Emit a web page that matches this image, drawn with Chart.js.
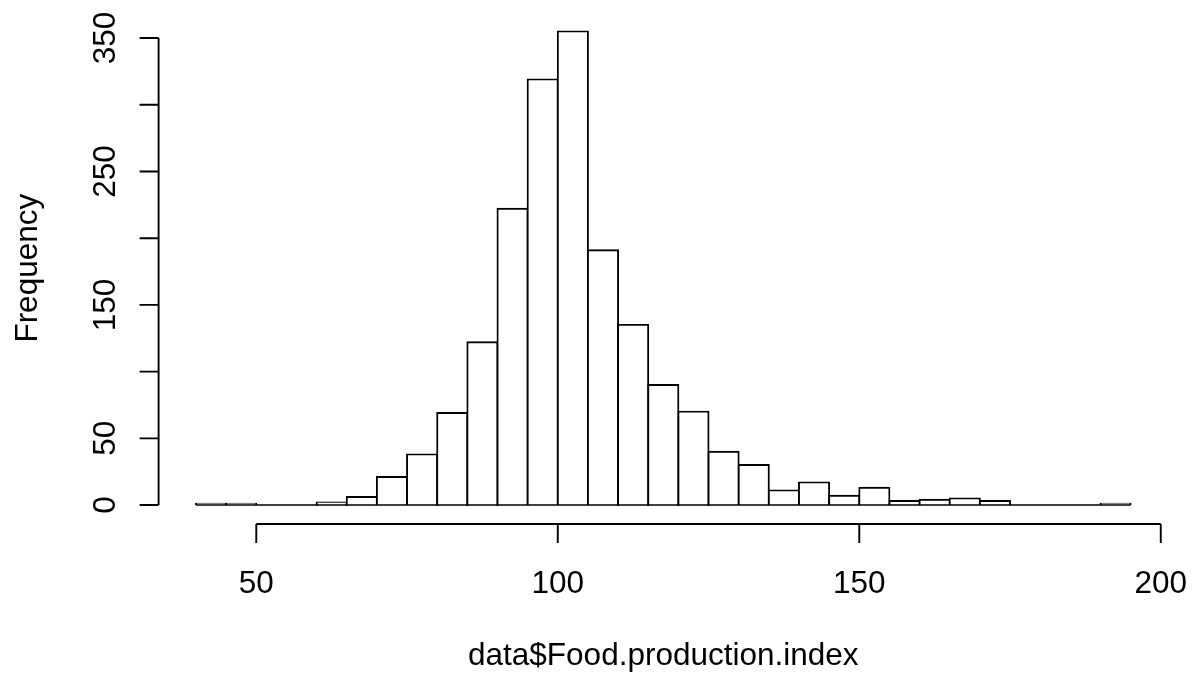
<!DOCTYPE html>
<html>
<head>
<meta charset="utf-8">
<script src="https://cdn.jsdelivr.net/npm/chart.js@4/dist/chart.umd.min.js"></script>
<style>
  html, body { margin: 0; padding: 0; background: #fff; }
  canvas { display: block; }
</style>
</head>
<body>
<canvas id="histChart" width="1196" height="677"></canvas>
<script>
/* ─── Data ─── */
const breaks = [40, 45, 50, 55, 60, 65, 70, 75, 80, 85, 90, 95, 100, 105, 110, 115,
  120, 125, 130, 135, 140, 145, 150, 155, 160, 165, 170, 175, 180, 185, 190, 195];
const counts = [1, 1, 0, 0, 2, 6, 21, 38, 69, 122, 222, 319, 355, 191, 135, 90,
  70, 40, 30, 11, 17, 7, 13, 3, 4, 5, 3, 0, 0, 0, 1];
const xTicks = [50, 100, 150, 200];
const yTicks = [0, 50, 100, 150, 200, 250, 300, 350];
const yTickLabels = ["0", "50", "", "150", "", "250", "", "350"];
const xTitle = "data$Food.production.index";
const yTitle = "Frequency";

const FONT = "31.5px 'Liberation Sans', Arial, sans-serif";

/* ─── R-style axes drawn from the scales ─── */
const rAxes = {
  id: "rAxes",
  afterDraw(chart) {
    const { ctx, chartArea: area, scales: { x, y } } = chart;
    ctx.save();
    ctx.strokeStyle = "#000";
    ctx.fillStyle = "#000";

    // baseline under the bins
    ctx.beginPath();
    ctx.lineWidth = 1.4;
    ctx.moveTo(x.getPixelForValue(breaks[0]), y.getPixelForValue(0));
    ctx.lineTo(x.getPixelForValue(breaks[breaks.length - 1]), y.getPixelForValue(0));
    ctx.stroke();
    ctx.lineWidth = 1.9;

    // x axis
    const xb = area.bottom;
    ctx.beginPath();
    ctx.moveTo(x.getPixelForValue(xTicks[0]), xb);
    ctx.lineTo(x.getPixelForValue(xTicks[xTicks.length - 1]), xb);
    xTicks.forEach((t) => {
      const px = x.getPixelForValue(t);
      ctx.moveTo(px, xb);
      ctx.lineTo(px, xb + 19);
    });
    ctx.stroke();
    ctx.font = FONT;
    ctx.textAlign = "center";
    ctx.textBaseline = "alphabetic";
    xTicks.forEach((t) => {
      ctx.fillText(String(t), x.getPixelForValue(t), 593);
    });
    ctx.fillText(xTitle, (area.left + area.right) / 2, 665);

    // y axis
    const yl = area.left;
    ctx.beginPath();
    ctx.moveTo(yl, y.getPixelForValue(yTicks[0]));
    ctx.lineTo(yl, y.getPixelForValue(yTicks[yTicks.length - 1]));
    yTicks.forEach((t) => {
      const py = y.getPixelForValue(t);
      ctx.moveTo(yl, py);
      ctx.lineTo(yl - 19, py);
    });
    ctx.stroke();
    yTicks.forEach((t, i) => {
      if (!yTickLabels[i]) return;
      ctx.save();
      ctx.translate(115, y.getPixelForValue(t));
      ctx.rotate(-Math.PI / 2);
      ctx.fillText(yTickLabels[i], 0, 0);
      ctx.restore();
    });
    ctx.save();
    ctx.translate(37, (area.top + area.bottom) / 2);
    ctx.rotate(-Math.PI / 2);
    ctx.fillText(yTitle, 0, 0);
    ctx.restore();

    ctx.restore();
  },
};

/* ─── Histogram ─── */
const xMin = breaks[0] - 0.04 * (breaks[breaks.length - 1] - breaks[0]);
const xMax = breaks[breaks.length - 1] + 0.04 * (breaks[breaks.length - 1] - breaks[0]);
const yMax = Math.max(...counts);

new Chart(document.getElementById("histChart"), {
  type: "bar",
  data: {
    datasets: [
      {
        data: counts.map((c, i) => ({ x: (breaks[i] + breaks[i + 1]) / 2, y: c })),
        backgroundColor: "#ffffff",
        borderColor: "#000000",
        borderWidth: 1.9,
        inflateAmount: 0.95,
        barPercentage: 1,
        categoryPercentage: 1,
      },
    ],
  },
  options: {
    responsive: false,
    devicePixelRatio: 1,
    animation: false,
    events: [],
    layout: {
      padding: { left: 158.6, right: 28, top: 12.4, bottom: 153 },
    },
    plugins: {
      legend: { display: false },
      tooltip: { enabled: false },
    },
    scales: {
      x: {
        type: "linear",
        display: false,
        offset: false,
        min: xMin,
        max: xMax,
      },
      y: {
        display: false,
        min: -0.04 * yMax,
        max: yMax * 1.04,
      },
    },
  },
  plugins: [rAxes],
});
</script>
</body>
</html>
